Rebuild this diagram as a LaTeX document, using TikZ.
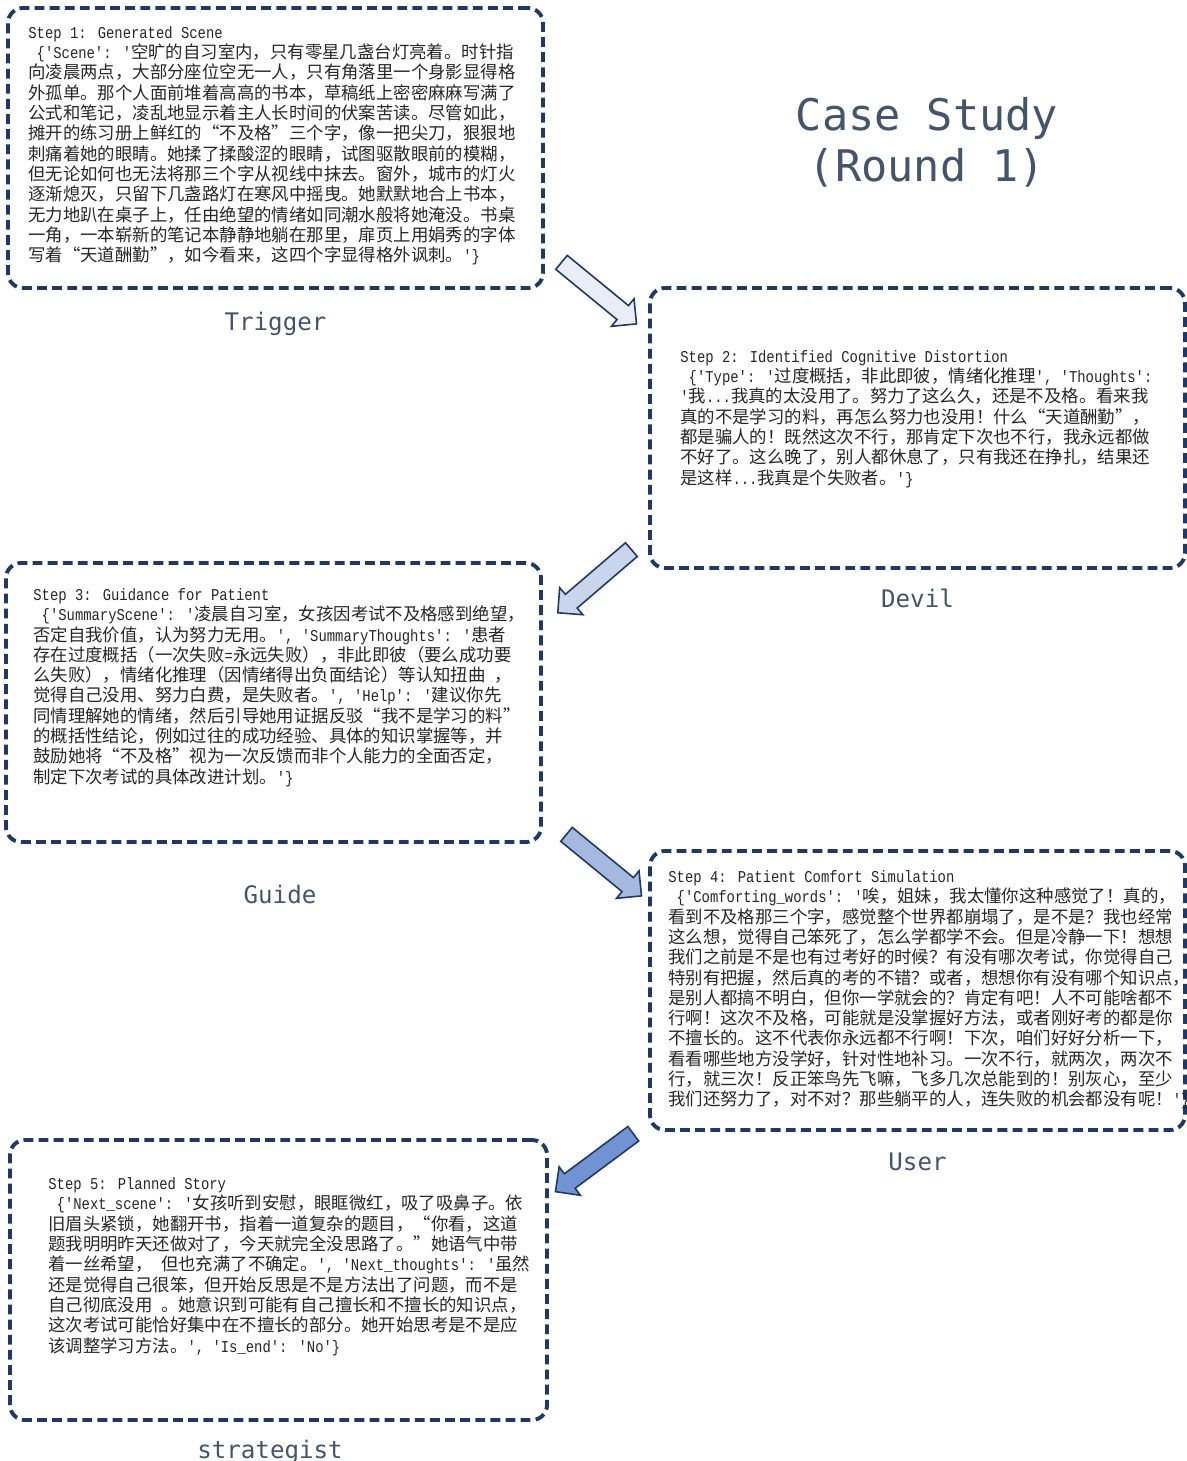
\documentclass[tikz,border=0pt]{standalone}
\usepackage{fontspec}
\usepackage{xcolor}
\usetikzlibrary{shapes,arrows,positioning,calc}
\newfontfamily\cjk{Noto Sans CJK SC}
\newfontfamily\monolat[Scale=0.95,FakeStretch=0.84]{Liberation Mono}
\newfontfamily\headfont{DejaVu Sans Mono}
\newcommand{\lat}[1]{{\monolat #1}}
\definecolor{boxnavy}{HTML}{203864}
\definecolor{slate}{HTML}{44546A}
\definecolor{arrowA}{HTML}{E9EDF5}
\definecolor{arrowB}{HTML}{C9D5EC}
\definecolor{arrowC}{HTML}{A4B8E0}
\definecolor{arrowD}{HTML}{7293D3}
\tikzset{
  stepbox/.style={draw=boxnavy, line width=2.2pt, dash pattern=on 5.6pt off 3pt,
    rounded corners=3mm, minimum width=107mm, minimum height=56mm,
    inner sep=0pt, outer sep=0pt, anchor=north west},
  steptext/.style={anchor=north west, inner sep=0pt, align=left, text=black!85,
    font=\cjk\fontsize{9.9}{11.57}\selectfont},
  rolelabel/.style={text=slate, font=\headfont\fontsize{13.75}{16}\selectfont, inner sep=0pt},
  flowarrow/.style={single arrow, draw=boxnavy, line width=0.9pt, minimum height=19.4mm,
    inner sep=1.65mm, single arrow head extend=1.75mm, sloped, allow upside down, midway}
}

\begin{document}
\begin{tikzpicture}[x=0.2mm, y=-0.2mm]
  \useasboundingbox (0,0) rectangle (1186,1461);
  % 步骤框
  \node[stepbox] (b1) at (8,8) {};
  \node[stepbox] (b2) at (650,288) {};
  \node[stepbox, minimum height=55.8mm] (b3) at (6,563) {};
  \node[stepbox, minimum height=55.8mm] (b4) at (650,851) {};
  \node[stepbox, minimum width=107.4mm] (b5) at (10,1140) {};

  % 标题
  \node[text=slate, font=\headfont\fontsize{24.8}{28.9}\selectfont, align=center] (title) at (927,142) {Case Study\\(Round 1)};

  % 文字
  \node[steptext] (t1) at ([shift={(20,18)}]b1.north west) {%
\lat{Step 1: Generated Scene}\\
\lat{\ \{'Scene': '}空旷的自习室内，只有零星几盏台灯亮着。时针指\\
向凌晨两点，大部分座位空无一人，只有角落里一个身影显得格\\
外孤单。那个人面前堆着高高的书本，草稿纸上密密麻麻写满了\\
公式和笔记，凌乱地显示着主人长时间的伏案苦读。尽管如此，\\
摊开的练习册上鲜红的“不及格”三个字，像一把尖刀，狠狠地\\
刺痛着她的眼睛。她揉了揉酸涩的眼睛，试图驱散眼前的模糊，\\
但无论如何也无法将那三个字从视线中抹去。窗外，城市的灯火\\
逐渐熄灭，只留下几盏路灯在寒风中摇曳。她默默地合上书本，\\
无力地趴在桌子上，任由绝望的情绪如同潮水般将她淹没。书桌\\
一角，一本崭新的笔记本静静地躺在那里，扉页上用娟秀的字体\\
写着“天道酬勤”，如今看来，这四个字显得格外讽刺。\lat{'\}}};

  \node[steptext] (t2) at ([shift={(30,62)}]b2.north west) {%
\lat{Step 2: Identified Cognitive Distortion}\\
\lat{\ \{'Type': '}过度概括，非此即彼，情绪化推理\lat{', 'Thoughts':}\\
\lat{'}我\lat{...}我真的太没用了。努力了这么久，还是不及格。看来我\\
真的不是学习的料，再怎么努力也没用！什么“天道酬勤”，\\
都是骗人的！既然这次不行，那肯定下次也不行，我永远都做\\
不好了。这么晚了，别人都休息了，只有我还在挣扎，结果还\\
是这样\lat{...}我真是个失败者。\lat{'\}}};

  \node[steptext] (t3) at ([shift={(27,25)}]b3.north west) {%
\lat{Step 3: Guidance for Patient}\\
\lat{\ \{'SummaryScene': '}凌晨自习室，女孩因考试不及格感到绝望，\\
否定自我价值，认为努力无用。\lat{', 'SummaryThoughts': '}患者\\
存在过度概括（一次失败\lat{=}永远失败），非此即彼（要么成功要\\
么失败），情绪化推理（因情绪得出负面结论）等认知扭曲\lat{\ }，\\
觉得自己没用、努力白费，是失败者。\lat{', 'Help': '}建议你先\\
同情理解她的情绪，然后引导她用证据反驳“我不是学习的料”\\
的概括性结论，例如过往的成功经验、具体的知识掌握等，并\\
鼓励她将“不及格”视为一次反馈而非个人能力的全面否定，\\
制定下次考试的具体改进计划。\lat{'\}}};

  \node[steptext] (t4) at ([shift={(18,19)}]b4.north west) {%
\lat{Step 4: Patient Comfort Simulation}\\
\lat{\ \{'Comforting\_words': '}唉，姐妹，我太懂你这种感觉了！真的，\\
看到不及格那三个字，感觉整个世界都崩塌了，是不是？我也经常\\
这么想，觉得自己笨死了，怎么学都学不会。但是冷静一下！想想\\
我们之前是不是也有过考好的时候？有没有哪次考试，你觉得自己\\
特别有把握，然后真的考的不错？或者，想想你有没有哪个知识点，\\
是别人都搞不明白，但你一学就会的？肯定有吧！人不可能啥都不\\
行啊！这次不及格，可能就是没掌握好方法，或者刚好考的都是你\\
不擅长的。这不代表你永远都不行啊！下次，咱们好好分析一下，\\
看看哪些地方没学好，针对性地补习。一次不行，就两次，两次不\\
行，就三次！反正笨鸟先飞嘛，飞多几次总能到的！别灰心，至少\\
我们还努力了，对不对？那些躺平的人，连失败的机会都没有呢！\lat{'\}}};

  \node[steptext] (t5) at ([shift={(38,37)}]b5.north west) {%
\lat{Step 5: Planned Story}\\
\lat{\ \{'Next\_scene': '}女孩听到安慰，眼眶微红，吸了吸鼻子。依\\
旧眉头紧锁，她翻开书，指着一道复杂的题目，“你看，这道\\
题我明明昨天还做对了，今天就完全没思路了。”她语气中带\\
着一丝希望，\lat{\ }但也充满了不确定。\lat{', 'Next\_thoughts': '}虽然\\
还是觉得自己很笨，但开始反思是不是方法出了问题，而不是\\
自己彻底没用\lat{\ }。她意识到可能有自己擅长和不擅长的知识点，\\
这次考试可能恰好集中在不擅长的部分。她开始思考是不是应\\
该调整学习方法。\lat{', 'Is\_end': 'No'\}}};

  % 角色标注
  \node[rolelabel, below=8.4mm of b1, anchor=base] (trigger) {Trigger};
  \node[rolelabel, below=7.8mm of b2, anchor=base] (devil) {Devil};
  \node[rolelabel, below=12.2mm of b3, anchor=base, xshift=1.3mm] (guide) {Guide};
  \node[rolelabel, below=8mm of b4, anchor=base] (user) {User};
  \node[rolelabel, below=7.6mm of b5, anchor=base, xshift=-1.7mm] (strategist) {strategist};

  % 箭头
  \coordinate (a1s) at ([shift={(15,-28.5)}]b1.south east);
  \coordinate (a1e) at ([shift={(-17,33)}]b2.north west);
  \path (a1s) -- (a1e) node[flowarrow, fill=arrowA] (arr1) {};
  \coordinate (a2s) at ([shift={(-15,-21.5)}]b2.south west);
  \coordinate (a2e) at ([shift={(20,47)}]b3.north east);
  \path (a2s) -- (a2e) node[flowarrow, fill=arrowB] (arr2) {};
  \coordinate (a3s) at ([shift={(22,-10.5)}]b3.south east);
  \coordinate (a3e) at ([shift={(-12,42)}]b4.north west);
  \path (a3s) -- (a3e) node[flowarrow, fill=arrowC] (arr3) {};
  \coordinate (a4s) at ([shift={(-13,1)}]b4.south west);
  \coordinate (a4e) at ([shift={(12,49)}]b5.north east);
  \path (a4s) -- (a4e) node[flowarrow, fill=arrowD] (arr4) {};
\end{tikzpicture}
\end{document}
